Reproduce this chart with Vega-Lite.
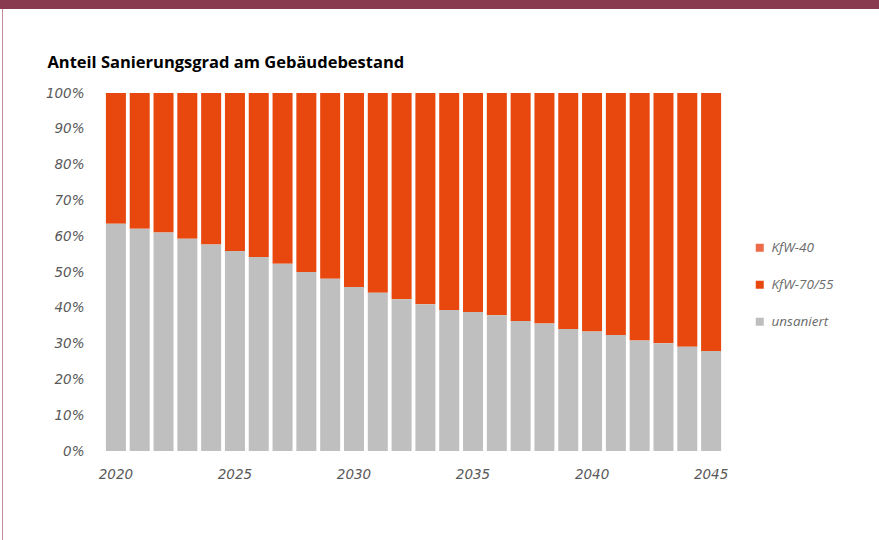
{
  "$schema": "https://vega.github.io/schema/vega-lite/v6.json",
  "padding": 0,
  "background": "white",
  "spacing": 0,
  "config": {
    "view": {"stroke": null},
    "concat": {"spacing": 0}
  },
  "datasets": {
    "shares": [
      {"year": 2020, "unsaniert": 63.5, "KfW-70/55": 36.5, "KfW-40": 0},
      {"year": 2021, "unsaniert": 62.1, "KfW-70/55": 37.9, "KfW-40": 0},
      {"year": 2022, "unsaniert": 61.0, "KfW-70/55": 39.0, "KfW-40": 0},
      {"year": 2023, "unsaniert": 59.3, "KfW-70/55": 40.7, "KfW-40": 0},
      {"year": 2024, "unsaniert": 57.7, "KfW-70/55": 42.3, "KfW-40": 0},
      {"year": 2025, "unsaniert": 55.9, "KfW-70/55": 44.1, "KfW-40": 0},
      {"year": 2026, "unsaniert": 54.2, "KfW-70/55": 45.8, "KfW-40": 0},
      {"year": 2027, "unsaniert": 52.3, "KfW-70/55": 47.7, "KfW-40": 0},
      {"year": 2028, "unsaniert": 50.0, "KfW-70/55": 50.0, "KfW-40": 0},
      {"year": 2029, "unsaniert": 48.1, "KfW-70/55": 51.9, "KfW-40": 0},
      {"year": 2030, "unsaniert": 45.8, "KfW-70/55": 54.2, "KfW-40": 0},
      {"year": 2031, "unsaniert": 44.2, "KfW-70/55": 55.8, "KfW-40": 0},
      {"year": 2032, "unsaniert": 42.4, "KfW-70/55": 57.6, "KfW-40": 0},
      {"year": 2033, "unsaniert": 41.0, "KfW-70/55": 59.0, "KfW-40": 0},
      {"year": 2034, "unsaniert": 39.4, "KfW-70/55": 60.6, "KfW-40": 0},
      {"year": 2035, "unsaniert": 38.8, "KfW-70/55": 61.2, "KfW-40": 0},
      {"year": 2036, "unsaniert": 37.9, "KfW-70/55": 62.1, "KfW-40": 0},
      {"year": 2037, "unsaniert": 36.3, "KfW-70/55": 63.7, "KfW-40": 0},
      {"year": 2038, "unsaniert": 35.6, "KfW-70/55": 64.4, "KfW-40": 0},
      {"year": 2039, "unsaniert": 34.1, "KfW-70/55": 65.9, "KfW-40": 0},
      {"year": 2040, "unsaniert": 33.4, "KfW-70/55": 66.6, "KfW-40": 0},
      {"year": 2041, "unsaniert": 32.4, "KfW-70/55": 67.6, "KfW-40": 0},
      {"year": 2042, "unsaniert": 30.9, "KfW-70/55": 69.1, "KfW-40": 0},
      {"year": 2043, "unsaniert": 30.1, "KfW-70/55": 69.9, "KfW-40": 0},
      {"year": 2044, "unsaniert": 29.1, "KfW-70/55": 70.9, "KfW-40": 0},
      {"year": 2045, "unsaniert": 27.9, "KfW-70/55": 72.1, "KfW-40": 0}
    ]
  },
  "vconcat": [
    {
      "width": 879, "height": 9,
      "data": {"values": []},
      "mark": "rect", "encoding": {},
      "view": {"fill": "#8A3A4E", "stroke": null}
    },
    {
      "spacing": 0,
      "hconcat": [
        {"width": 2, "height": 531, "data": {"values": []}, "mark": "rect", "encoding": {}, "view": {"fill": "white", "stroke": null}},
        {"width": 1, "height": 531, "data": {"values": []}, "mark": "rect", "encoding": {}, "view": {"fill": "#C28D9B", "stroke": null}},
        {"width": 42, "height": 531, "data": {"values": []}, "mark": "rect", "encoding": {}, "view": {"fill": "white", "stroke": null}},
        {
          "spacing": 0,
          "vconcat": [
            {"width": 1, "height": 45, "data": {"values": []}, "mark": "rect", "encoding": {}, "view": {"fill": "white", "stroke": null}},
            {
              "width": 619,
              "height": 358,
              "title": {
                "text": "Anteil Sanierungsgrad am Gebäudebestand",
                "anchor": "start",
                "frame": "bounds",
                "font": "Open Sans",
                "fontSize": 16.5,
                "fontWeight": "bold",
                "color": "#000000",
                "offset": 15,
                "dx": 2
              },
              "data": {"name": "shares"},
              "transform": [
                {"fold": ["KfW-40", "KfW-70/55", "unsaniert"], "as": ["category", "value"]}
              ],
              "mark": {"type": "bar"},
              "encoding": {
                "x": {
                  "field": "year", "type": "ordinal",
                  "scale": {"paddingInner": 0.16, "paddingOuter": 0.08},
                  "axis": {
                    "title": null,
                    "values": [2020, 2025, 2030, 2035, 2040, 2045],
                    "labelAngle": 0,
                    "labelFont": "DejaVu Sans",
                    "labelFontStyle": "italic",
                    "labelFontSize": 13.5,
                    "labelColor": "#595959",
                    "labelPadding": 16,
                    "domain": false,
                    "ticks": false,
                    "tickSize": 0
                  }
                },
                "y": {
                  "field": "value", "type": "quantitative",
                  "stack": "normalize",
                  "scale": {"domain": [0, 1]},
                  "axis": {
                    "title": null,
                    "values": [0, 0.1, 0.2, 0.3, 0.4, 0.5, 0.6, 0.7, 0.8, 0.9, 1],
                    "format": ".0%",
                    "grid": false,
                    "domain": false,
                    "ticks": false,
                    "tickSize": 0,
                    "labelFont": "DejaVu Sans",
                    "labelFontStyle": "italic",
                    "labelFontSize": 13.5,
                    "labelColor": "#595959",
                    "labelPadding": 20
                  }
                },
                "color": {
                  "field": "category", "type": "nominal",
                  "scale": {
                    "domain": ["KfW-40", "KfW-70/55", "unsaniert"],
                    "range": ["#EE6A4A", "#E8470E", "#BFBFBF"]
                  },
                  "legend": {
                    "title": null,
                    "orient": "none",
                    "legendX": 753,
                    "legendY": 241,
                    "symbolType": "square",
                    "symbolSize": 64,
                    "symbolStrokeWidth": 0,
                    "labelFont": "Open Sans",
                    "labelFontStyle": "italic",
                    "labelFontSize": 13.5,
                    "labelColor": "#6b6b6b",
                    "labelOffset": 5,
                    "rowPadding": 22
                  }
                },
                "order": {"field": "category", "sort": "descending"}
              }
            }
          ]
        }
      ]
    }
  ]
}
